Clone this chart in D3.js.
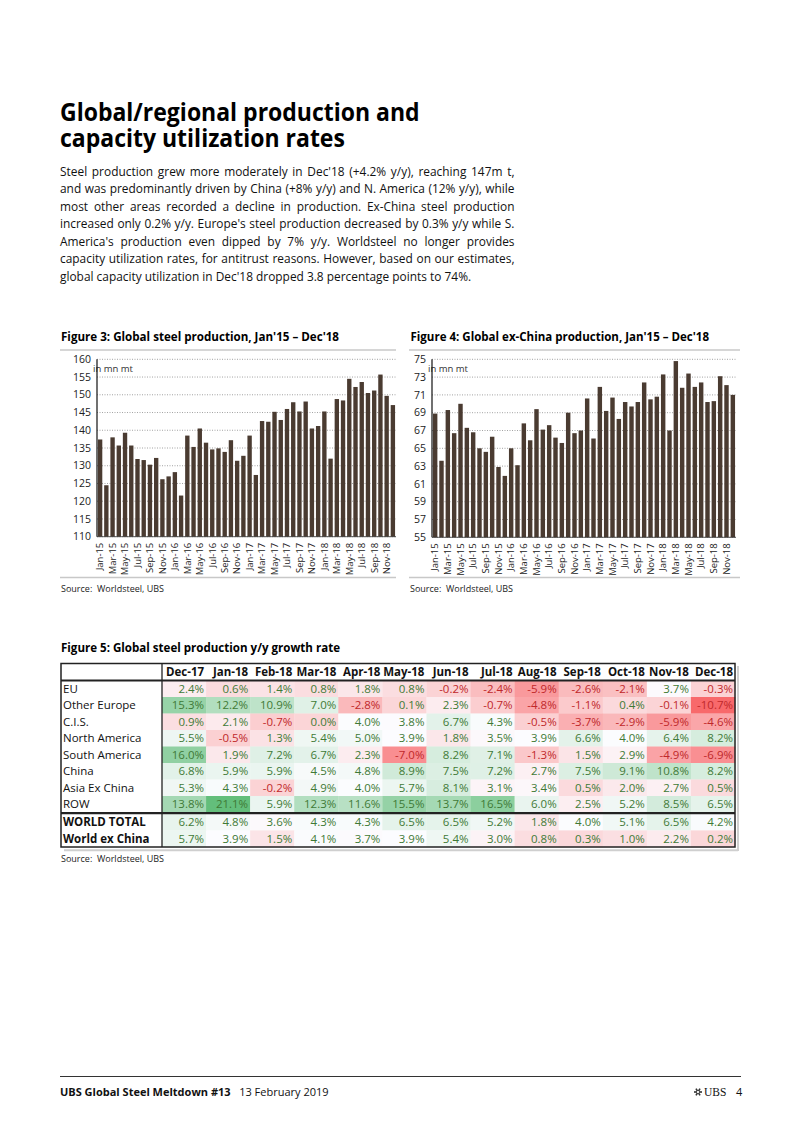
<!DOCTYPE html>
<html><head><meta charset="utf-8">
<script src="https://cdn.jsdelivr.net/npm/d3@7"></script>
<style>
body{margin:0;background:#fff;}
svg text{font-family:"Open Sans","Noto Sans",sans-serif;}
</style></head><body>
<svg id="page" width="802" height="1133"></svg>
<script>
// ---------------- DATA ----------------
const titleLines = ["Global/regional production and", "capacity utilization rates"];
const bodyLines = [
 "Steel production grew more moderately in Dec'18 (+4.2% y/y), reaching 147m t,",
 "and was predominantly driven by China (+8% y/y) and N. America (12% y/y), while",
 "most other areas recorded a decline in production. Ex-China steel production",
 "increased only 0.2% y/y. Europe's steel production decreased by 0.3% y/y while S.",
 "America's production even dipped by 7% y/y. Worldsteel no longer provides",
 "capacity utilization rates, for antitrust reasons. However, based on our estimates,",
 "global capacity utilization in Dec'18 dropped 3.8 percentage points to 74%."
];
const monthNames = ["Jan","Feb","Mar","Apr","May","Jun","Jul","Aug","Sep","Oct","Nov","Dec"];
const years = ["15","16","17","18"];
const months = years.flatMap(y => monthNames.map(m => m + "-" + y));
const globalProd = [137.4,124.5,138.0,135.7,139.3,135.7,131.9,131.6,130.3,132.2,126.2,127.0,
                    128.2,121.6,138.5,135.3,140.5,136.5,134.6,134.9,133.9,137.2,131.4,132.8,
                    138.5,127.4,142.6,142.4,145.2,142.9,146.0,147.9,145.3,148.1,140.5,141.2,
                    145.3,132.0,148.8,148.4,154.5,152.2,153.6,150.5,151.2,155.7,149.7,147.1];
const exChinaProd = [68.9,63.6,69.3,66.7,70.0,67.3,66.8,65.0,64.6,66.3,62.9,61.9,
                     65.0,63.1,67.8,65.9,69.4,67.1,67.6,66.2,65.6,69.0,66.7,67.0,
                     70.6,66.1,71.9,69.2,70.7,68.3,70.2,69.7,70.2,72.4,70.5,70.8,
                     73.3,67.0,74.8,71.8,73.4,71.9,72.4,70.2,70.3,73.1,72.1,71.0];
const fig3Ticks = [110,115,120,125,130,135,140,145,150,155,160];
const fig4Ticks = [55,57,59,61,63,65,67,69,71,73,75];

const tableCols = ["Dec-17","Jan-18","Feb-18","Mar-18","Apr-18","May-18","Jun-18","Jul-18","Aug-18","Sep-18","Oct-18","Nov-18","Dec-18"];
const tableRows = ["EU","Other Europe","C.I.S.","North America","South America","China","Asia Ex China","ROW","WORLD TOTAL","World ex China"];
const rowEU           = [2.4,0.6,1.4,0.8,1.8,0.8,-0.2,-2.4,-5.9,-2.6,-2.1,3.7,-0.3];
const rowOtherEurope  = [15.3,12.2,10.9,7.0,-2.8,0.1,2.3,-0.7,-4.8,-1.1,0.4,-0.1,-10.7];
const rowCIS          = [0.9,2.1,-0.7,0.0,4.0,3.8,6.7,4.3,-0.5,-3.7,-2.9,-5.9,-4.6];
const rowNorthAmerica = [5.5,-0.5,1.3,5.4,5.0,3.9,1.8,3.5,3.9,6.6,4.0,6.4,8.2];
const rowSouthAmerica = [16.0,1.9,7.2,6.7,2.3,-7.0,8.2,7.1,-1.3,1.5,2.9,-4.9,-6.9];
const rowChina        = [6.8,5.9,5.9,4.5,4.8,8.9,7.5,7.2,2.7,7.5,9.1,10.8,8.2];
const rowAsiaExChina  = [5.3,4.3,-0.2,4.9,4.0,5.7,8.1,3.1,3.4,0.5,2.0,2.7,0.5];
const rowROW          = [13.8,21.1,5.9,12.3,11.6,15.5,13.7,16.5,6.0,2.5,5.2,8.5,6.5];
const rowWorldTotal   = [6.2,4.8,3.6,4.3,4.3,6.5,6.5,5.2,1.8,4.0,5.1,6.5,4.2];
const rowWorldExChina = [5.7,3.9,1.5,4.1,3.7,3.9,5.4,3.0,0.8,0.3,1.0,2.2,0.2];
const tableValues = [rowEU,rowOtherEurope,rowCIS,rowNorthAmerica,rowSouthAmerica,rowChina,rowAsiaExChina,rowROW,rowWorldTotal,rowWorldExChina];

// ---------------- DRAW ----------------
const svg = d3.select("#page");
svg.append("rect").attr("width",802).attr("height",1133).attr("fill","#fff");

// Title (one text element, two lines)
const tg = svg.append("g");
const ttext = tg.append("text").attr("font-size",25.5).attr("font-weight",700).attr("fill","#000");
const tspans = ttext.selectAll("tspan").data(titleLines).join("tspan")
  .attr("x",0).attr("y",(d,i)=>121.5+i*25.2).text(d=>d);
const tw = tspans.nodes()[0].getComputedTextLength();
tg.attr("transform",`translate(60,0) scale(${360/tw},1)`);

// Body paragraph (justified)
const bodyW = 455;
const bg = svg.append("g");
const bt = bg.selectAll("text").data(bodyLines).join("text")
  .attr("x",0).attr("y",(d,i)=>176+i*17.45)
  .attr("font-size",13).attr("fill","#111").style("white-space","pre").text(d=>d);
const lens = bt.nodes().map(n=>n.getComputedTextLength());
const kb = Math.min(1, bodyW / (d3.max(lens.slice(0,-1)) + 6));
bg.attr("transform",`translate(60,0) scale(${kb},1)`);
bt.each(function(d,i){
  if(i===bodyLines.length-1) return;
  const spaces = (d.match(/ /g)||[]).length;
  const ws = (bodyW/kb - lens[i]) / spaces;
  d3.select(this).attr("word-spacing", ws);
});

function fitText(sel, w){
  sel.attr("textLength", w).attr("lengthAdjust","spacingAndGlyphs");
}

// Bar chart function
function barChart(o){
  const g = svg.append("g");
  fitText(g.append("text").attr("x",o.titleX).attr("y",340.5).attr("font-size",12).attr("font-weight",700)
    .attr("fill","#000").text(o.title), o.titleW);
  g.append("line").attr("x1",o.ruleX0).attr("x2",o.ruleX1).attr("y1",350).attr("y2",350)
    .attr("stroke","#c8c8c8").attr("stroke-width",1.5);
  g.append("line").attr("x1",o.ruleX0).attr("x2",o.ruleX1).attr("y1",577.5).attr("y2",577.5)
    .attr("stroke","#c8c8c8").attr("stroke-width",1.5);
  g.append("text").attr("x",o.ruleX0+1).attr("y",591.5).attr("font-size",9).attr("fill","#222")
    .style("white-space","pre").text("Source:  Worldsteel, UBS");

  const x = d3.scaleBand().domain(months).range([o.x0,o.x1]).paddingInner(0.3).paddingOuter(0.15);
  const y = d3.scaleLinear().domain(o.domain).range([o.yBot,o.yTop]);

  g.append("g").selectAll("line").data(o.ticks).join("line")
    .attr("x1",o.x0).attr("x2",o.x1).attr("y1",d=>y(d)).attr("y2",d=>y(d))
    .attr("stroke","#8c8c8c").attr("stroke-width",0.8).attr("stroke-dasharray","1,1.5");
  g.append("g").selectAll("text").data(o.ticks).join("text")
    .attr("x",o.x0-6).attr("y",d=>y(d)).attr("dy","0.35em").attr("text-anchor","end")
    .attr("font-size",10.5).attr("fill","#222").text(d=>d);
  g.append("text").attr("x",o.x0-4).attr("y",y(o.ticks[o.ticks.length-1])+12.5)
    .attr("font-size",9.5).attr("fill","#333").text("in mn mt");
  g.append("g").selectAll("rect").data(o.values).join("rect")
    .attr("x",(d,i)=>x(months[i])).attr("width",x.bandwidth())
    .attr("y",d=>y(d)).attr("height",d=>y(o.domain[0])-y(d)).attr("fill","#4a3b31");
  g.append("line").attr("x1",o.x0).attr("x2",o.x0).attr("y1",o.yTop).attr("y2",o.yBot)
    .attr("stroke","#111").attr("stroke-width",1.2);
  g.append("line").attr("x1",o.x0).attr("x2",o.x1).attr("y1",o.yBot).attr("y2",o.yBot)
    .attr("stroke","#333").attr("stroke-width",0.8);
  g.append("g").selectAll("text").data(months.filter((m,i)=>i%2===0)).join("text")
    .attr("transform",d=>`translate(${x(d)+x.bandwidth()/2},${o.yBot+6}) rotate(-90)`)
    .attr("dy","0.35em").attr("text-anchor","end").attr("font-size",9.5).attr("fill","#222").text(d=>d);
}

barChart({x0:97,x1:396,yTop:359.3,yBot:536.7,domain:[110,160],ticks:fig3Ticks,values:globalProd,
  title:"Figure 3: Global steel production, Jan'15 \u2013 Dec'18",titleX:61,titleW:278,ruleX0:60,ruleX1:396});
barChart({x0:432,x1:736,yTop:359.3,yBot:537.3,domain:[55,75],ticks:fig4Ticks,values:exChinaProd,
  title:"Figure 4: Global ex-China production, Jan'15 \u2013 Dec'18",titleX:410.5,titleW:298.5,ruleX0:409,ruleX1:740});

// ---------------- TABLE ----------------
const T = svg.append("g");
fitText(T.append("text").attr("x",61).attr("y",651.5).attr("font-size",12).attr("font-weight",700)
  .attr("fill","#000").text("Figure 5: Global steel production y/y growth rate"), 279);

const tx0 = 61, tLab = 162, tx1 = 735;
const colX = d3.scaleBand().domain(tableCols).range([tLab,tx1]);
const hTop = 663.5, hBot = 680.5;
const rowTop = i => i < 8 ? hBot + i*16.5 : 813.8 + (i-8)*16.6;
const rowH = i => i < 8 ? 16.5 : 16.6;
const all = tableValues.flat();
const color = d3.scaleLinear()
  .domain([d3.min(all), d3.median(all), d3.max(all)])
  .range(["#F8696B","#FCFCFF","#63BE7B"]);

T.append("line").attr("x1",64).attr("x2",738).attr("y1",850.2).attr("y2",850.2).attr("stroke","#cfcfcf").attr("stroke-width",2);
T.append("line").attr("x1",738).attr("x2",738).attr("y1",666).attr("y2",851).attr("stroke","#cfcfcf").attr("stroke-width",2);

tableValues.forEach((row,ri)=>{
  const rg = T.append("g");
  rg.selectAll("rect").data(row).join("rect")
    .attr("x",(d,ci)=>colX(tableCols[ci])).attr("width",colX.bandwidth()+0.3)
    .attr("y",rowTop(ri)).attr("height",rowH(ri)+0.3).attr("fill",d=>color(d));
  rg.selectAll("text").data(row).join("text")
    .attr("x",(d,ci)=>colX(tableCols[ci])+colX.bandwidth()-2)
    .attr("y",rowTop(ri)+rowH(ri)/2).attr("dy","0.36em").attr("text-anchor","end")
    .attr("font-size",11.5).attr("fill",d=>d<0?"#c0282a":"#3f7a36")
    .text(d=>d.toFixed(1)+"%");
  rg.append("text").attr("x",tx0+2).attr("y",rowTop(ri)+rowH(ri)/2).attr("dy","0.36em")
    .attr("font-size",11.5).attr("font-weight",ri>=8?700:400).attr("fill","#111").text(tableRows[ri]);
});
T.append("g").selectAll("text").data(tableCols).join("text")
  .attr("x",d=>colX(d)+colX.bandwidth()-2).attr("y",(hTop+hBot)/2).attr("dy","0.36em")
  .attr("text-anchor","end").attr("font-size",11.5).attr("font-weight",700).attr("fill","#111").text(d=>d);
T.append("rect").attr("x",tx0).attr("y",hTop).attr("width",tx1-tx0).attr("height",847-hTop)
  .attr("fill","none").attr("stroke","#222").attr("stroke-width",1.5);
T.append("line").attr("x1",tx0).attr("x2",tx1).attr("y1",hBot).attr("y2",hBot).attr("stroke","#222").attr("stroke-width",1.8);
T.append("line").attr("x1",tx0).attr("x2",tx1).attr("y1",813.2).attr("y2",813.2).attr("stroke","#222").attr("stroke-width",2.2);
T.append("line").attr("x1",tLab).attr("x2",tLab).attr("y1",hTop).attr("y2",847).attr("stroke","#222").attr("stroke-width",1.3);
T.append("text").attr("x",61).attr("y",862).attr("font-size",9).attr("fill","#222")
  .style("white-space","pre").text("Source:  Worldsteel, UBS");

// ---------------- FOOTER ----------------
const F = svg.append("g");
F.append("line").attr("x1",60).attr("x2",741).attr("y1",1076.5).attr("y2",1076.5).attr("stroke","#333").attr("stroke-width",1);
const ft = F.append("text").attr("x",60).attr("y",1096).attr("font-size",11).attr("fill","#111").style("white-space","pre");
ft.append("tspan").attr("font-weight",700).text("UBS Global Steel Meltdown #13");
ft.append("tspan").text("   13 February 2019");
const lg = F.append("g").attr("transform","translate(698,1092)");
[0,60,120].forEach(a=>{
  lg.append("line").attr("x1",-4).attr("x2",4).attr("y1",0).attr("y2",0)
    .attr("transform",`rotate(${a})`).attr("stroke","#333").attr("stroke-width",1.6);
});
lg.append("circle").attr("r",1.6).attr("fill","#fff").attr("stroke","#333").attr("stroke-width",0.8);
F.append("text").attr("x",704).attr("y",1096).attr("font-size",11.5)
  .style("font-family","'Liberation Serif',serif").attr("fill","#111").text("UBS");
F.append("text").attr("x",736).attr("y",1096).attr("font-size",11).attr("fill","#111").text("4");
</script>
</body></html>
